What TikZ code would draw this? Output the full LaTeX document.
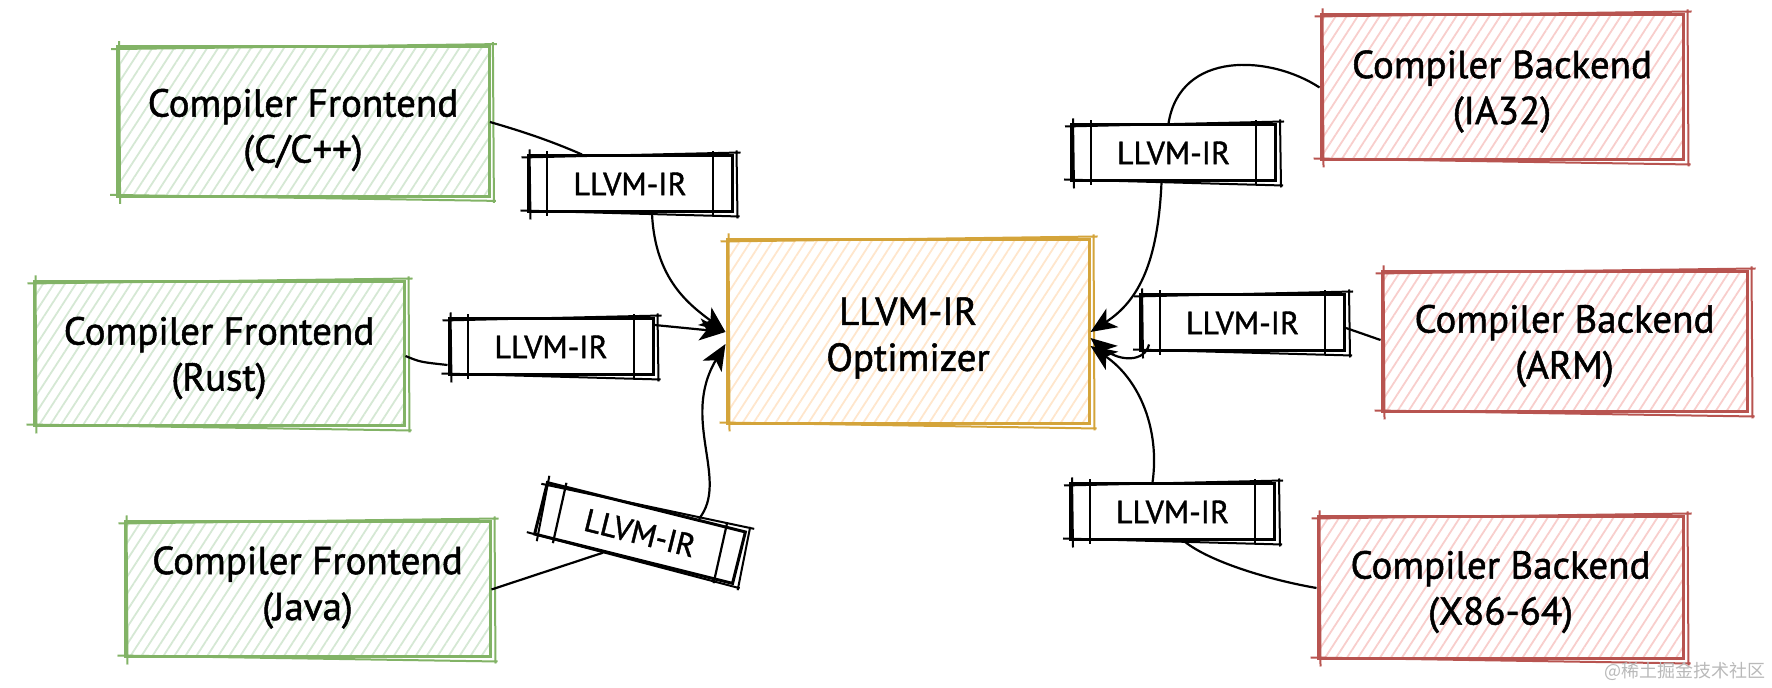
\documentclass[tikz,border=0pt]{standalone}
\usepackage{fontspec}
\setmainfont{PT Sans}[FakeBold=1.3]
\newfontfamily\cjk{Noto Sans CJK SC}
\usetikzlibrary{patterns.meta,calc,arrows.meta}
\definecolor{gstroke}{HTML}{82B366}
\definecolor{gfill}{HTML}{D5E8D4}
\definecolor{ystroke}{HTML}{D4A43A}
\definecolor{yfill}{HTML}{FFE6CC}
\definecolor{rstroke}{HTML}{B85450}
\definecolor{rfill}{HTML}{F8CECC}
\newcommand\sketchline[2]{%
  \draw[#2, line width=1pt]
    ($(#1.north west)+(-5,3)$) -- ($(#1.north east)+(7,-2)$)
    ($(#1.north east)+(3,-4)$) -- ($(#1.south east)+(4,5)$)
    ($(#1.south east)+(6,3)$) -- ($(#1.south west)+(-6,-3)$)
    ($(#1.south west)+(4,6)$) -- ($(#1.north west)+(3,-5)$);}
\begin{document}
\begin{tikzpicture}[x=0.5pt,y=-0.5pt,
  box/.style={draw=#1stroke, line width=1.5pt,
    pattern={Lines[angle=57,distance=4.6pt,line width=0.9pt]}, pattern color=#1fill,
    inner sep=0pt},
  txt/.style={align=center, inner sep=0pt, font=\fontsize{19.5}{23}\selectfont},
  tag/.style={draw=black, fill=white, line width=1.5pt, minimum width=102pt,
    minimum height=28pt, inner sep=0pt, font=\fontsize{16}{18}\selectfont},
  conn/.style={draw=black, line width=1.1pt},
  arr/.style={conn, -{Stealth[length=13pt,width=11pt,inset=3.5pt]}}]
\useasboundingbox (0,0) rectangle (1772,688);

% main boxes
\node[box=g, minimum width=186pt, minimum height=75pt] (fe1) at (303,122) {};
\node[box=g, minimum width=185pt, minimum height=72pt] (fe2) at (219,354) {};
\node[box=g, minimum width=182.5pt, minimum height=67.5pt] (fe3) at (307.5,589.5) {};
\node[box=y, minimum width=181pt, minimum height=92pt] (opt) at (908,332) {};
\node[box=r, minimum width=181pt, minimum height=72.5pt] (be1) at (1502,87.5) {};
\node[box=r, minimum width=182.5pt, minimum height=70pt] (be2) at (1564.5,342) {};
\node[box=r, minimum width=182.5pt, minimum height=71pt] (be3) at (1500.5,588) {};

\sketchline{fe1}{gstroke}
\sketchline{fe2}{gstroke}
\sketchline{fe3}{gstroke}
\sketchline{opt}{ystroke}
\sketchline{be1}{rstroke}
\sketchline{be2}{rstroke}
\sketchline{be3}{rstroke}

\node[txt] (fe1t) at ([yshift=-4pt]fe1.center) {Compiler Frontend\\(C/C++)};
\node[txt] (fe2t) at ([yshift=-2pt]fe2.center) {Compiler Frontend\\(Rust)};
\node[txt] (fe3t) at ([yshift=1pt]fe3.center) {Compiler Frontend\\(Java)};
\node[txt] (optt) at ([yshift=-3pt]opt.center) {LLVM-IR\\Optimizer};
\node[txt] (be1t) at ([yshift=-2pt]be1.center) {Compiler Backend\\(IA32)};
\node[txt] (be2t) at ([yshift=-2pt]be2.center) {Compiler Backend\\(ARM)};
\node[txt] (be3t) at ([yshift=-2pt]be3.center) {Compiler Backend\\(X86-64)};

% tags
\node[tag] (t1) at (630,184) {LLVM-IR};
\node[tag] (t2) at (551,347) {LLVM-IR};
\node[tag, minimum height=26.5pt, rotate=-14] (t3) at (640,533) {LLVM-IR};
\node[tag] (t4) at (1173.5,153) {LLVM-IR};
\node[tag] (t5) at (1242.5,323) {LLVM-IR};
\node[tag] (t6) at (1172.5,512) {LLVM-IR};

\foreach \t in {t1,t2,t3,t4,t5,t6}{
  \draw[line width=1.1pt] ($(\t.north west)!0.1!(\t.north east)+(0,-3)$) -- ($(\t.south west)!0.1!(\t.south east)+(0,3)$);
  \draw[line width=1.1pt] ($(\t.north west)!0.9!(\t.north east)+(0,-3)$) -- ($(\t.south west)!0.9!(\t.south east)+(0,3)$);
  \sketchline{\t}{black}
}

% connectors
\draw[conn] (fe1.east) .. controls (535,135) and (560,145) .. ([xshift=-24pt]t1.north);
\draw[arr] ([xshift=11pt]t1.south) .. controls (655,280) and (690,305) .. (opt.west);
\draw[conn] ([yshift=-1pt]fe2.east) .. controls (420,362) .. ([yshift=-9pt]t2.west);
\draw[arr] ([yshift=11pt]t2.east) -- (opt.west);
\draw[conn] (fe3.east) -- ($(t3.south)!0.3!(t3.south west)$);
\draw[arr] ($(t3.north)!0.52!(t3.north east)$) .. controls (730,480) and (680,420) .. ([yshift=-6pt]opt.west);

\draw[conn] (be1.west) .. controls (1270,55) and (1180,50) .. ([xshift=-2.5pt]t4.north);
\draw[arr] ([xshift=-6pt]t4.south) .. controls (1158,260) and (1140,300) .. (opt.east);
\draw[conn] ([yshift=1pt]be2.west) -- ([yshift=-2.5pt]t5.east);
\draw[arr] ([xshift=5pt,yshift=4pt]t5.south west) .. controls (1145,362) and (1120,362) .. ([yshift=-3pt]opt.east);
\draw[arr] ([xshift=-10pt]t6.north) .. controls (1160,430) and (1140,380) .. ([yshift=-7pt]opt.east);
\draw[conn] ([xshift=6pt]t6.south) .. controls (1210,562) and (1270,580) .. (be3.west);

\node[font=\cjk\fontsize{9}{9}\selectfont, text=gray!55, inner sep=0pt] (wm) at (1685,671) {@稀土掘金技术社区};
\end{tikzpicture}
\end{document}
